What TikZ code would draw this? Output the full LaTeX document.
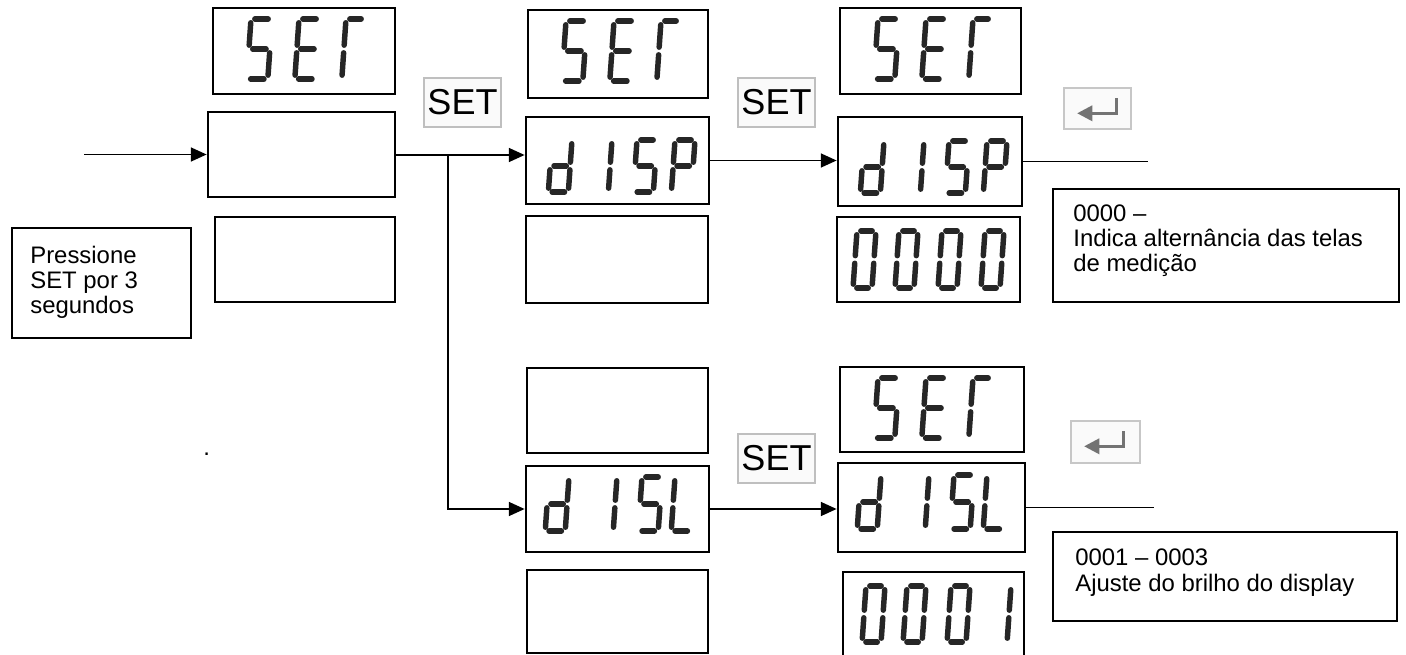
\documentclass[tikz,border=0pt]{standalone}
\usepackage{fontspec}
\setmainfont{Liberation Sans}
\usetikzlibrary{arrows.meta}

\tikzset{
  segline/.style={line width=3.1pt, black!85, line cap=round},
  frame/.style={draw, line width=1.6pt, inner sep=0pt},
  btn/.style={draw=black!25, fill=black!2, line width=0.8pt, inner sep=0pt, font=\fontsize{20.5}{24}\selectfont},
  keybox/.style={draw=black!22, fill=black!2, line width=0.8pt, inner sep=0pt},
  note/.style={draw, line width=1.1pt, inner sep=0pt},
  lbl/.style={anchor=base west, inner sep=0pt, font=\fontsize{13.6}{16}\selectfont},
  conn/.style={line width=0.85pt},
  arr/.style={conn, -{Triangle[length=9pt,width=8pt]}},
  glyph/.style={black!55, line width=1.6pt},
}

% box from (x1,y1) to (x2,y2) in pixel coordinates
\newcommand\bx[6][frame]{\node[#1, minimum width={(#5-#3)*0.02cm}, minimum height={(#6-#4)*0.02cm}] (#2) at ({(#3+#5)/2},{(#4+#6)/2}) {};}

% seven-segment character: top-left x, y, width, height, segments
\newcommand\segXa{\draw[segline] (3.8,0) -- (\W-3.8,0);}
\newcommand\segXb{\draw[segline] (\W,3.8) -- (\W,\H/2-3.8);}
\newcommand\segXc{\draw[segline] (\W,\H/2+3.8) -- (\W,\H-3.8);}
\newcommand\segXd{\draw[segline] (3.8,\H) -- (\W-3.8,\H);}
\newcommand\segXe{\draw[segline] (0,\H/2+3.8) -- (0,\H-3.8);}
\newcommand\segXf{\draw[segline] (0,3.8) -- (0,\H/2-3.8);}
\newcommand\segXg{\draw[segline] (3.8,\H/2) -- (\W-3.8,\H/2);}
\newcommand\ssd[5]{%
  \begin{scope}[shift={(#1,#2)}, xslant=0.07]
    \def\W{#3}\def\H{#4}%
    \foreach \s in {#5}{\csname segX\s\endcsname}
  \end{scope}}

\begin{document}
\begin{tikzpicture}[x=0.02cm, y=-0.02cm]
\useasboundingbox (0,0) rectangle (1406,655);

% ---------- column 1 ----------
\bx{s1}{213}{8}{395}{94}
\ssd{251}{19}{21}{60}{a,f,g,c,d}
\ssd{299}{19}{21}{60}{a,f,g,e,d}
\ssd{346}{19}{19}{60}{a,f,e}
\bx{m1}{208}{112}{395}{197}
\bx{b1}{215}{217}{395}{302}

% ---------- column 2, top ----------
\bx{s2}{528}{10}{708}{98}
\ssd{566}{21}{21}{60}{a,f,g,c,d}
\ssd{614}{21}{21}{60}{a,f,g,e,d}
\ssd{661}{21}{19}{60}{a,f,e}
\bx{d2}{526}{117}{709}{204}
\ssd{552}{140}{20}{52}{b,c,d,e,g}
\ssd{592}{140}{20}{52}{b,c}
\ssd{637}{140}{20}{52}{a,f,g,c,d}
\ssd{675}{140}{20}{52}{a,b,f,g,e}
\bx{e2}{526}{216}{708}{303}

% ---------- column 3, top ----------
\bx{s3}{840}{8}{1021}{94}
\ssd{878}{19}{21}{60}{a,f,g,c,d}
\ssd{926}{19}{21}{60}{a,f,g,e,d}
\ssd{973}{19}{19}{60}{a,f,e}
\bx{d3}{838}{117}{1022}{206}
\ssd{864}{141}{20}{52}{b,c,d,e,g}
\ssd{904}{141}{20}{52}{b,c}
\ssd{949}{141}{20}{52}{a,f,g,c,d}
\ssd{987}{141}{20}{52}{a,b,f,g,e}
\bx{z3}{837}{217}{1020}{302}
\ssd{857}{231}{19}{57}{a,b,c,d,e,f}
\ssd{899}{231}{19}{57}{a,b,c,d,e,f}
\ssd{942}{231}{19}{57}{a,b,c,d,e,f}
\ssd{985}{231}{19}{57}{a,b,c,d,e,f}

% ---------- column 2, bottom ----------
\bx{e4}{527}{368}{708}{453}
\bx{l2}{526}{466}{709}{552}
\ssd{549}{477}{20}{54}{b,c,d,e,g}
\ssd{597}{477}{20}{54}{b,c}
\ssd{642}{477}{20}{54}{a,f,g,c,d}
\ssd{675}{477}{20}{54}{f,e,d}
\bx{e5}{527}{570}{708}{653}

% ---------- column 3, bottom ----------
\bx{s4}{840}{367}{1024}{452}
\ssd{878}{378}{21}{60}{a,f,g,c,d}
\ssd{926}{378}{21}{60}{a,f,g,e,d}
\ssd{973}{378}{19}{60}{a,f,e}
\bx{l3}{838}{463}{1025}{552}
\ssd{861}{475}{20}{54}{b,c,d,e,g}
\ssd{909}{475}{20}{54}{b,c}
\ssd{954}{475}{20}{54}{a,f,g,c,d}
\ssd{987}{475}{20}{54}{f,e,d}
\bx{o3}{843}{572}{1024}{662}
\ssd{866}{586}{19}{56}{a,b,c,d,e,f}
\ssd{907}{586}{19}{56}{a,b,c,d,e,f}
\ssd{951}{586}{19}{56}{a,b,c,d,e,f}
\ssd{992}{586}{19}{56}{b,c}

% ---------- SET keys ----------
\node[btn, minimum width=1.54cm, minimum height=0.98cm] (k1) at (462.5,102.5) {SET};
\node[btn, minimum width=1.54cm, minimum height=0.98cm] (k2) at (776.5,102.5) {SET};
\node[btn, minimum width=1.54cm, minimum height=0.98cm] (k3) at (776.5,458.5) {SET};

% ---------- enter keys ----------
\bx[keybox]{n1}{1064}{88}{1131}{129}
\bx[keybox]{n2}{1071}{421}{1140}{463}
\foreach \n in {n1,n2}{
  \draw[glyph] ([shift={(53,11)}]\n.north west) -- ([shift={(53,26)}]\n.north west) -- ([shift={(26,26)}]\n.north west);
  \fill[black!55] ([shift={(14,26)}]\n.north west) -- ([shift={(29,18)}]\n.north west) -- ([shift={(29,34)}]\n.north west) -- cycle;
}

% ---------- note boxes ----------
\bx[note]{t1}{12}{228}{191}{338}
\node[lbl] (t1a) at (30,263) {Pressione};
\node[lbl] (t1b) at (30,288) {SET por 3};
\node[lbl] (t1c) at (30,313) {segundos};

\bx[note]{t2}{1053}{189}{1399}{302}
\node[lbl] (t2a) at (1073,222) {0000 –};
\node[lbl] (t2b) at (1073,247) {Indica alternância das telas};
\node[lbl] (t2c) at (1073,272) {de medição};

\bx[note]{t3}{1053}{532}{1397}{621}
\node[lbl] (t3a) at (1075,565) {0001 – 0003};
\node[lbl] (t3b) at (1075,591) {Ajuste do brilho do display};

\node[lbl] (dot) at (203,455) {.};

% ---------- connectors ----------
\coordinate (in) at (84,154.5);
\coordinate (j1) at (448,155);
\coordinate (o1) at (1148,163);
\coordinate (o2) at (1154,505);
\draw[arr] (in) -- (m1.west);
\draw[conn] (m1.east |- j1) -- (j1);
\draw[arr] (j1) -- (d2.west |- j1);
\draw[arr] (j1) |- (l2.west);
\draw[arr] (d2.east) -- (d3.west |- d2.east);
\draw[conn] (d3.east) -- (d3.east -| o1);
\draw[arr] (l2.east) -- (l3.west |- l2.east);
\draw[conn] (l3.east) -- (l3.east -| o2);
\end{tikzpicture}
\end{document}
